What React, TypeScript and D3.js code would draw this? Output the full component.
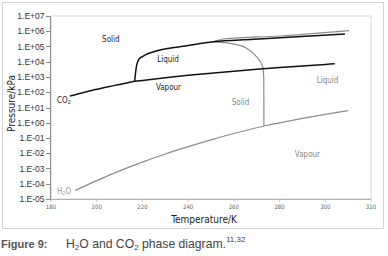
import React from "react";
import * as d3 from "d3";

// ---- data (Temperature K, Pressure kPa) ----
const co2Sublimation: [number, number][] = [
  [188.3, 56], [194.7, 101], [200, 155], [205, 230], [210, 327], [216.6, 518],
];
const co2Boiling: [number, number][] = [
  [216.6, 518], [220, 600], [230, 893], [240, 1283], [250, 1785], [260, 2419],
  [270, 3203], [280, 4160], [290, 5318], [300, 6713], [304.1, 7377],
];
const co2Melting: [number, number][] = [
  [216.6, 518], [217.05, 2200], [217.5, 6200], [218.6, 15500], [220.0, 22000],
  [221.9, 31000], [227.7, 59000], [239.4, 112000], [251.0, 204000],
  [268.5, 295000], [280.2, 380000], [308.6, 660000],
];
const h2oVapour: [number, number][] = [
  [190.5, 3.6e-5], [200, 1.6e-4], [210, 7.0e-4], [220, 2.6e-3], [230, 8.9e-3],
  [240, 2.7e-2], [250, 7.6e-2], [260, 0.196], [273.15, 0.611], [280, 0.99],
  [290, 1.92], [300, 3.54], [310, 6.23],
];
const h2oMelting: [number, number][] = [
  [251.0, 204000], [258.3, 162000], [265.6, 76000], [270.0, 21000],
  [272.6, 4700], [273.1, 810], [273.15, 0.611],
];
const h2oHighPressure: [number, number][] = [
  [251.0, 204000], [255.4, 310000], [280.2, 490000], [310.4, 1100000],
];

const xTicks = [180, 200, 220, 240, 260, 280, 300, 320];
const yTickExps = [7, 6, 5, 4, 3, 2, 1, 0, -1, -2, -3, -4, -5];

// region labels: [text, T, P]
const co2Labels: [string, number, number][] = [
  ["Solid", 206.2, 2.7e5],
  ["Liquid", 231.2, 1.5e4],
  ["Vapour", 231.4, 220],
];
const h2oLabels: [string, number, number][] = [
  ["Solid", 262.9, 20],
  ["Liquid", 301, 550],
  ["Vapour", 292.2, 0.0089],
];

const NARROW = "'Liberation Sans Narrow', 'Arial Narrow', 'DejaVu Sans Condensed', sans-serif";
const SANS = "'Liberation Sans', Arial, sans-serif";

export default function App() {
  const left = 51, right = 371, top = 16, bottom = 199;
  const x = d3.scaleLinear().domain([180, 320]).range([left, right]);
  const y = d3.scaleLog().domain([1e-5, 1e7]).range([bottom, top]);
  const line = d3
    .line<[number, number]>()
    .x((d) => x(d[0]))
    .y((d) => y(d[1]))
    .curve(d3.curveMonotoneX);

  const fmt = (e: number) =>
    `1.E${e < 0 ? "-" : "+"}${String(Math.abs(e)).padStart(2, "0")}`;

  return (
    <svg
      width={388}
      height={256}
      style={{ position: "absolute", left: 0, top: 0, background: "#fff" }}
    >
      {/* outer frame */}
      <rect x={2.5} y={2.5} width={381} height={226} fill="none" stroke="#d4d4d4" strokeWidth={1} />
      {/* plot frame */}
      <rect x={left} y={top} width={right - left} height={bottom - top} fill="none" stroke="#d8d8d8" strokeWidth={1} />
      {/* axes */}
      <line x1={left - 0.5} x2={left - 0.5} y1={top} y2={bottom} stroke="#8a8a8a" strokeWidth={1} />
      <line x1={left - 0.5} x2={right} y1={bottom + 0.5} y2={bottom + 0.5} stroke="#b0b0b0" strokeWidth={1} />

      {yTickExps.map((e) => (
        <g key={e}>
          <line x1={left - 5} x2={left} y1={Math.round(y(Math.pow(10, e))) + 0.5} y2={Math.round(y(Math.pow(10, e))) + 0.5} stroke="#8a8a8a" />
          <text
            x={left - 6.5}
            y={y(Math.pow(10, e))}
            textAnchor="end"
            dominantBaseline="central"
            fontFamily={SANS}
            fontSize={8.5}
            fill="#333"
          >
            {fmt(e)}
          </text>
        </g>
      ))}

      {xTicks.map((t) => (
        <g key={t}>
          <line x1={x(t)} x2={x(t)} y1={bottom + 0.5} y2={bottom + 3} stroke="#c8c8c8" />
          <text
            x={x(t)}
            y={209}
            textAnchor="middle"
            fontFamily={NARROW}
            fontSize={6}
            fill="#666"
          >
            {t}
          </text>
        </g>
      ))}

      {/* axis titles */}
      <text x={204} y={223} textAnchor="middle" fontFamily={NARROW} fontSize={10} fill="#222">
        Temperature/K
      </text>
      <text
        transform="translate(14.5,103.5) rotate(-90)"
        textAnchor="middle"
        fontFamily={NARROW}
        fontSize={10}
        fill="#222"
      >
        Pressure/kPa
      </text>

      {/* H2O curves (gray) */}
      <path d={line(h2oVapour) || ""} fill="none" stroke="#8c8c8c" strokeWidth={1.2} />
      <path d={line(h2oMelting) || ""} fill="none" stroke="#8c8c8c" strokeWidth={1.2} />
      <path d={line(h2oHighPressure) || ""} fill="none" stroke="#8c8c8c" strokeWidth={1.2} />

      {/* CO2 curves (black) */}
      <path d={line(co2Sublimation) || ""} fill="none" stroke="#111" strokeWidth={1.5} />
      <path d={line(co2Boiling) || ""} fill="none" stroke="#111" strokeWidth={1.5} />
      <path d={line(co2Melting) || ""} fill="none" stroke="#111" strokeWidth={1.5} />

      {/* region labels */}
      {co2Labels.map(([s, t, p]) => (
        <text key={"c" + s} x={x(t)} y={y(p)} textAnchor="middle" dominantBaseline="central" fontFamily={NARROW} fontSize={8} fill="#222">
          {s}
        </text>
      ))}
      {h2oLabels.map(([s, t, p]) => (
        <text key={"h" + s} x={x(t)} y={y(p)} textAnchor="middle" dominantBaseline="central" fontFamily={NARROW} fontSize={8} fill="#888">
          {s}
        </text>
      ))}
      <text x={x(182.6)} y={y(31)} dominantBaseline="central" fontFamily={NARROW} fontSize={8} fill="#222">
        CO<tspan fontSize={5.5} dy={2}>2</tspan>
      </text>
      <text x={x(182.6)} y={y(3.3e-5)} dominantBaseline="central" fontFamily={NARROW} fontSize={8} fill="#999">
        H<tspan fontSize={5.5} dy={2}>2</tspan><tspan dy={-2}>O</tspan>
      </text>

      {/* caption */}
      <text x={1} y={247.5} fontFamily={SANS} fontWeight="bold" fontSize={11} fill="#555">
        Figure 9:
      </text>
      <text x={66} y={247.5} fontFamily={SANS} fontSize={12.2} fill="#444">
        H<tspan fontSize={8} dy={2}>2</tspan>
        <tspan dy={-2}>O and CO</tspan>
        <tspan fontSize={8} dy={2}>2</tspan>
        <tspan dy={-2}> phase diagram.</tspan>
        <tspan fontSize={8} dy={-5.5}>11,32</tspan>
      </text>
    </svg>
  );
}
